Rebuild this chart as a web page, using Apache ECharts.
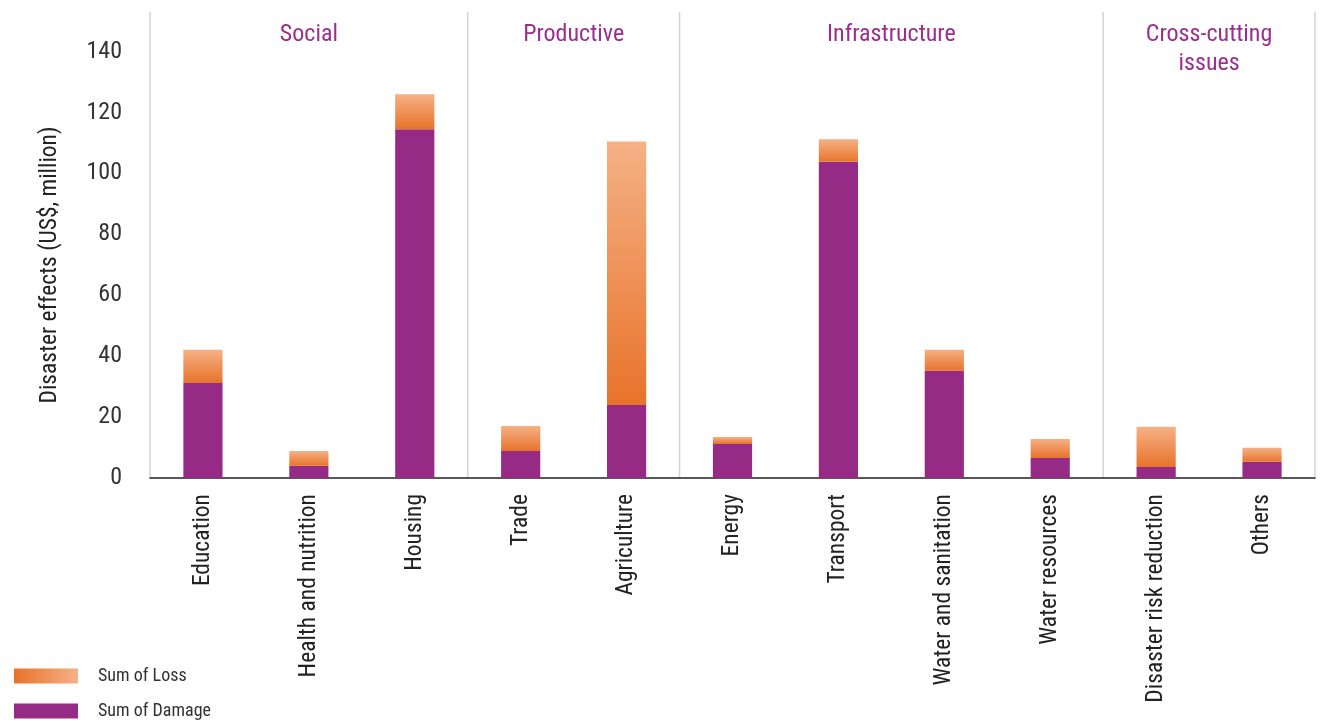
<!DOCTYPE html>
<html><head><meta charset="utf-8">
<script src="https://cdn.jsdelivr.net/npm/echarts@6/dist/echarts.min.js"></script>
<style>html,body{margin:0;padding:0;background:#fff}#c{width:1331px;height:722px}</style>
</head><body><div id="c"></div>
<script>
const categories = ['Education','Health and nutrition','Housing','Trade','Agriculture','Energy','Transport','Water and sanitation','Water resources','Disaster risk reduction','Others'];
const damage = [31.2, 4.0, 114.5, 8.9, 24.0, 11.2, 103.8, 35.2, 6.6, 3.6, 5.3];
const loss   = [10.9, 4.9, 11.5, 8.2, 86.5, 2.3, 7.4, 6.9, 6.2, 13.2, 4.6];
const groups = ['Social','Productive','Infrastructure','Cross-cutting\nissues'];
const groupStart = [0, 3, 5, 9];
const groupEnd = [3, 5, 9, 11];
const yTicks = [0,20,40,60,80,100,120,140];

const FONT = "'Roboto Condensed','Liberation Sans Narrow','Roboto',sans-serif";
const PURPLE = '#962B86';
const lossGrad = new echarts.graphic.LinearGradient(0,0,0,1,[{offset:0,color:'#F5B185'},{offset:1,color:'#E8732B'}]);
const legendGrad = new echarts.graphic.LinearGradient(0,0,1,0,[{offset:0,color:'#E8732B'},{offset:1,color:'#F5B185'}]);

const chart = echarts.init(document.getElementById('c'), null, {renderer:'canvas'});
const option = {
  animation:false,
  grid:{left:150,right:16,top:12,bottom:244,containLabel:false},
  legend:{
    orient:'vertical', left:14, top:667, height:60, padding:0, itemWidth:64, itemHeight:15, itemGap:17,
    icon:'rect',
    textStyle:{fontFamily:FONT,fontSize:18,color:'#333',padding:[0,0,0,15]},
    data:[{name:'Sum of Loss',itemStyle:{color:legendGrad}},{name:'Sum of Damage'}]
  },
  xAxis:{
    type:'category', data:categories,
    axisLine:{lineStyle:{color:'#222',width:1.5}},
    axisTick:{show:false},
    axisLabel:{rotate:90, interval:0, margin:16, fontFamily:FONT, fontSize:23.5, color:'#222'},
    splitLine:{show:false}
  },
  yAxis:{
    type:'value', min:0, max:153, interval:20,
    name:'Disaster effects (US$, million)', nameLocation:'middle', nameGap:88,
    nameTextStyle:{fontFamily:FONT,fontSize:23.5,color:'#222',padding:[0,40,0,0]},
    axisLine:{show:false}, axisTick:{show:false}, splitLine:{show:false},
    axisLabel:{margin:28,fontFamily:FONT,fontSize:24,color:'#333',
      formatter:v=> yTicks.indexOf(v)>=0 ? String(v) : ''}
  },
  series:[
    {name:'Sum of Damage',type:'bar',stack:'t',data:damage,barWidth:'37%',itemStyle:{color:PURPLE}},
    {name:'Sum of Loss',type:'bar',stack:'t',data:loss,barWidth:'37%',itemStyle:{color:lossGrad}}
  ]
};
chart.setOption(option);

// group separators and labels, computed from the axis scales
const c0 = chart.convertToPixel({xAxisIndex:0}, 0);
const c1 = chart.convertToPixel({xAxisIndex:0}, 1);
const band = c1 - c0;
const yBottom = chart.convertToPixel({yAxisIndex:0}, 0);
const yTop = chart.convertToPixel({yAxisIndex:0}, 153);
const bx = i => c0 - band/2 + i*band;
const graphics = [];
const bounds = [0,3,5,9,11];
bounds.forEach(b=>{
  graphics.push({type:'line',z:-1,shape:{x1:bx(b),y1:yTop,x2:bx(b),y2:yBottom},style:{stroke:'#d4d4d4',lineWidth:1.5}});
});
groups.forEach((g,i)=>{
  const cx = (bx(groupStart[i]) + bx(groupEnd[i]))/2;
  graphics.push({type:'text',x:cx,y:yTop+8,style:{text:g,fill:'#9B2E8E',font:'24px '+FONT,align:'center',verticalAlign:'top',lineHeight:29}});
});
chart.setOption({graphic:graphics});
</script></body></html>
